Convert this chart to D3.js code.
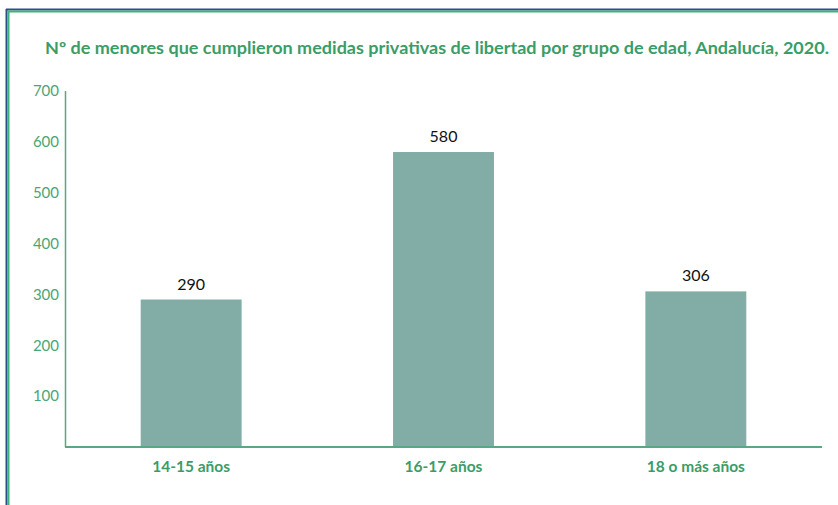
<!DOCTYPE html>
<html>
<head>
<meta charset="utf-8">
<script src="https://cdn.jsdelivr.net/npm/d3@7"></script>
<style>
  html, body { margin: 0; padding: 0; background: #fff; }
  svg { display: block; }
</style>
</head>
<body>
<svg id="chart" width="838" height="505"></svg>
<script>
// Data
const categories = ["14-15 años", "16-17 años", "18 o más años"];
const values = [290, 580, 306];
const yTicks = [100, 200, 300, 400, 500, 600, 700];
const title = "Nº de menores que cumplieron medidas privativas de libertad por grupo de edad, Andalucía, 2020.";

const svg = d3.select("#chart");
const W = 838, H = 505;
const green = "#3a9d68";
const axisGreen = "#5aa882";

// Frame: dark outer line with green inner line, top and left
svg.append("line").attr("x1", 6).attr("x2", W).attr("y1", 9.5).attr("y2", 9.5)
  .attr("stroke", "#2f4f8a").attr("stroke-width", 2);
svg.append("line").attr("x1", 8).attr("x2", W).attr("y1", 11.5).attr("y2", 11.5)
  .attr("stroke", "#3cb47a").attr("stroke-width", 2);
svg.append("line").attr("x1", 6.5).attr("x2", 6.5).attr("y1", 9).attr("y2", H)
  .attr("stroke", "#2f4f8a").attr("stroke-width", 2);
svg.append("line").attr("x1", 8.5).attr("x2", 8.5).attr("y1", 11).attr("y2", H)
  .attr("stroke", "#3cb47a").attr("stroke-width", 2);

// Title
svg.append("text")
  .attr("x", 437).attr("y", 54)
  .attr("text-anchor", "middle")
  .attr("font-family", "Lato, sans-serif")
  .attr("font-weight", "bold")
  .attr("font-size", 17)
  .attr("textLength", 784)
  .attr("lengthAdjust", "spacingAndGlyphs")
  .attr("fill", green)
  .text(title);

const plotLeft = 65, plotRight = 822, plotTop = 91, plotBottom = 447;

const x = d3.scaleBand().domain(categories).range([plotLeft, plotRight])
  .paddingInner(0.6).paddingOuter(0.3);
const y = d3.scaleLinear().domain([0, 700]).range([plotBottom, plotTop]);

// Bars
svg.append("g").selectAll("rect").data(values).join("rect")
  .attr("x", (d, i) => x(categories[i]))
  .attr("width", x.bandwidth())
  .attr("y", d => y(d))
  .attr("height", d => y(0) - y(d))
  .attr("fill", "#82ada6");

// Value labels
svg.append("g").selectAll("text").data(values).join("text")
  .attr("x", (d, i) => x(categories[i]) + x.bandwidth() / 2)
  .attr("y", d => y(d) - 10)
  .attr("text-anchor", "middle")
  .attr("font-family", "Lato, sans-serif")
  .attr("font-size", 16)
  .attr("fill", "#111")
  .text(d => d);

// Y axis
const yAxis = svg.append("g").attr("transform", `translate(${plotLeft},0)`)
  .call(d3.axisLeft(y).tickValues(yTicks).tickSize(0).tickPadding(6));
yAxis.select(".domain").attr("stroke", axisGreen).attr("stroke-width", 1.5)
  .attr("d", `M0.5,${plotTop}V${plotBottom}`);
yAxis.selectAll("text")
  .attr("font-family", "Lato, sans-serif")
  .attr("font-size", 15)
  .attr("fill", "#4aa676");

// X axis
const xAxis = svg.append("g").attr("transform", `translate(0,${plotBottom})`)
  .call(d3.axisBottom(x).tickSize(0).tickPadding(14));
xAxis.select(".domain").attr("stroke", axisGreen).attr("stroke-width", 2)
  .attr("d", `M${plotLeft},0H${plotRight}`);
xAxis.selectAll("text")
  .attr("font-family", "Lato, sans-serif")
  .attr("font-weight", "bold")
  .attr("font-size", 15.5)
  .attr("fill", green);
</script>
</body>
</html>
